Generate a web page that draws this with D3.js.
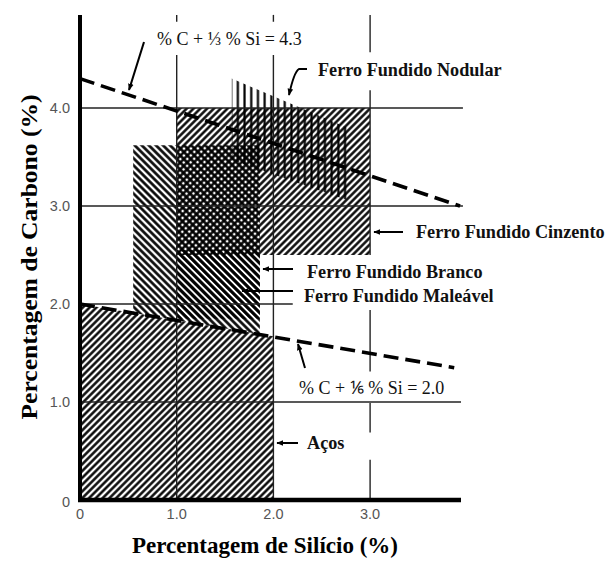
<!DOCTYPE html>
<html>
<head>
<meta charset="utf-8">
<script src="https://cdn.jsdelivr.net/npm/d3@7/dist/d3.min.js"></script>
<style>
  html, body { margin: 0; padding: 0; background: #fff; }
  svg { display: block; }
  .serif { font-family: "Liberation Serif", "Times New Roman", serif; }
  .tick { font-family: "Liberation Sans", Arial, sans-serif; font-size: 14.5px; fill: #555; }
</style>
</head>
<body>
<div id="chart"></div>
<script>
// Composition ranges (% Si, % C) for steels and cast irons
const xTicks = [0, 1, 2, 3];
const xTickLabels = ["0", "1.0", "2.0", "3.0"];
const yTicks = [0, 1, 2, 3, 4];
const yTickLabels = ["0", "1.0", "2.0", "3.0", "4.0"];

const regionBranco   = [[0.55, 1.68], [0.55, 3.62], [1.86, 3.62], [1.86, 1.68]];
const regionMaleavel = [[1.0, 1.85], [1.0, 2.55], [1.86, 2.55], [1.86, 1.85]];
const regionCinzento = [[1.0, 2.5], [1.0, 4.0], [3.0, 4.0], [3.0, 2.5]];
const regionNodular  = [[1.57, 4.3], [2.76, 3.8], [2.76, 3.06], [1.57, 3.47]];
const regionAcos     = [[0, 0], [0, 2.0], [2.0, 1.67], [2.0, 0]];

const lineUpper = [[0, 4.3], [3.93, 3.0]];   // %C + 1/3 %Si = 4.3
const lineLower = [[0, 2.0], [3.87, 1.35]];  // %C + 1/6 %Si = 2.0

const W = 608, H = 561;
const x = d3.scaleLinear().domain([0, 4]).range([80, 80 + 4 * 96.7]);
const y = d3.scaleLinear().domain([0, 4]).range([500, 108]);

const svg = d3.select("#chart").append("svg").attr("width", W).attr("height", H);
const defs = svg.append("defs");

function hatch(id, angle, spacing, width) {
  const p = defs.append("pattern")
    .attr("id", id)
    .attr("patternUnits", "userSpaceOnUse")
    .attr("width", spacing).attr("height", spacing)
    .attr("patternTransform", `rotate(${angle})`);
  p.append("line")
    .attr("x1", spacing / 2).attr("y1", -1)
    .attr("x2", spacing / 2).attr("y2", spacing + 1)
    .attr("stroke", "#000").attr("stroke-width", width);
}
hatch("fwd", 45, 4.8, 2.4);    // "/" hatch
hatch("back", -45, 5.0, 2.6);  // "\" hatch
hatch("vert", 0, 6.7, 2.2);    // vertical hatch

const poly = d3.line().x(d => x(d[0])).y(d => y(d[1]));
const closed = pts => poly(pts) + "Z";

const regions = svg.append("g");
regions.append("path").attr("d", closed(regionBranco)).attr("fill", "url(#back)");
regions.append("path").attr("d", closed(regionMaleavel)).attr("fill", "url(#back)");
regions.append("path").attr("d", closed(regionCinzento)).attr("fill", "url(#fwd)");
regions.append("path").attr("d", closed(regionNodular)).attr("fill", "url(#vert)");
regions.append("path").attr("d", closed(regionAcos)).attr("fill", "#fff");
regions.append("path").attr("d", closed(regionAcos)).attr("fill", "url(#fwd)");

// grid lines, interrupted where labels sit
const grid = svg.append("g").attr("stroke", "#222").attr("stroke-width", 1.4);
const hGrid = [
  { c: 1, s0: 0, s1: 3.94 },
  { c: 2, s0: 0, s1: 2.2 },
  { c: 3, s0: 0, s1: 3.96 },
  { c: 4, s0: 0, s1: 3.96 }
];
hGrid.forEach(g => grid.append("line")
  .attr("x1", x(g.s0)).attr("x2", x(g.s1)).attr("y1", y(g.c)).attr("y2", y(g.c)));
const vGrid = [
  { s: 1, segs: [[4.95, 4.88], [4.54, 0]] },
  { s: 2, segs: [[4.95, 4.88], [4.54, 0]] },
  { s: 3, segs: [[4.95, 4.57], [4.18, 2.5], [1.94, 1.31], [0.99, 0.69], [0.41, 0]] }
];
vGrid.forEach(g => g.segs.forEach(sg => grid.append("line")
  .attr("x1", x(g.s)).attr("x2", x(g.s)).attr("y1", y(sg[0])).attr("y2", y(sg[1]))));

// axes
svg.append("line").attr("x1", x(0)).attr("x2", x(0)).attr("y1", y(4.95)).attr("y2", y(0) + 2)
  .attr("stroke", "#000").attr("stroke-width", 4);
svg.append("line").attr("x1", x(0) - 2).attr("x2", x(3.94)).attr("y1", y(0)).attr("y2", y(0))
  .attr("stroke", "#000").attr("stroke-width", 4.5);

// dashed composition lines
[lineUpper, lineLower].forEach(l => svg.append("path").attr("d", poly(l))
  .attr("fill", "none").attr("stroke", "#000").attr("stroke-width", 3.6)
  .attr("stroke-dasharray", "15,7"));

// tick labels
svg.append("g").selectAll("text").data(xTicks).join("text")
  .attr("class", "tick").attr("x", d => x(d)).attr("y", 519)
  .attr("text-anchor", "middle").text((d, i) => xTickLabels[i]);
svg.append("g").selectAll("text").data(yTicks).join("text")
  .attr("class", "tick").attr("x", 70).attr("y", d => y(d) + 5 + (d === 0 ? 2 : 0))
  .attr("text-anchor", "end").text((d, i) => yTickLabels[i]);

// axis titles
svg.append("text").attr("class", "serif").attr("x", 265).attr("y", 553)
  .attr("text-anchor", "middle").attr("font-size", 23).attr("font-weight", "bold")
  .text("Percentagem de Silício (%)");
svg.append("text").attr("class", "serif")
  .attr("transform", "translate(37,257) rotate(-90)")
  .attr("text-anchor", "middle").attr("font-size", 24).attr("font-weight", "bold")
  .attr("textLength", 325).attr("lengthAdjust", "spacingAndGlyphs")
  .text("Percentagem de Carbono (%)");

// arrowhead
defs.append("marker").attr("id", "arrow").attr("viewBox", "0 0 10 10")
  .attr("refX", 9).attr("refY", 5).attr("markerWidth", 7).attr("markerHeight", 7)
  .attr("markerUnits", "userSpaceOnUse").attr("orient", "auto")
  .append("path").attr("d", "M0,1 L10,5 L0,9 Z").attr("fill", "#000");

const notes = svg.append("g");
function arrow(d) {
  notes.append("path").attr("d", d).attr("fill", "none").attr("stroke", "#000")
    .attr("stroke-width", 2).attr("marker-end", "url(#arrow)");
}
function label(txt, x0, yb, size, bold) {
  notes.append("text").attr("class", "serif").attr("x", x0).attr("y", yb)
    .attr("font-size", size).attr("font-weight", bold ? "bold" : "normal")
    .attr("fill", "#111").text(txt);
}

label("% C + \u2153 % Si = 4.3", 157, 45, 18, false);
arrow("M144,42 L129,90");

label("Ferro Fundido Nodular", 318, 76, 18.2, true);
arrow("M307,69 L299,69 Q294,72 289,95");

label("Ferro Fundido Cinzento", 416, 238, 18.2, true);
arrow("M403,232 L374,232");

label("Ferro Fundido Branco", 307, 278, 18.2, true);
arrow("M293,269 L263,269");

label("Ferro Fundido Maleável", 304, 302, 18.2, true);
arrow("M293,291 L242,291");

label("% C + \u2159 % Si = 2.0", 299, 394, 18, false);
arrow("M305,368 L298,344");

label("Aços", 307, 449, 18.2, true);
arrow("M298,443 L277,443");
</script>
</body>
</html>
